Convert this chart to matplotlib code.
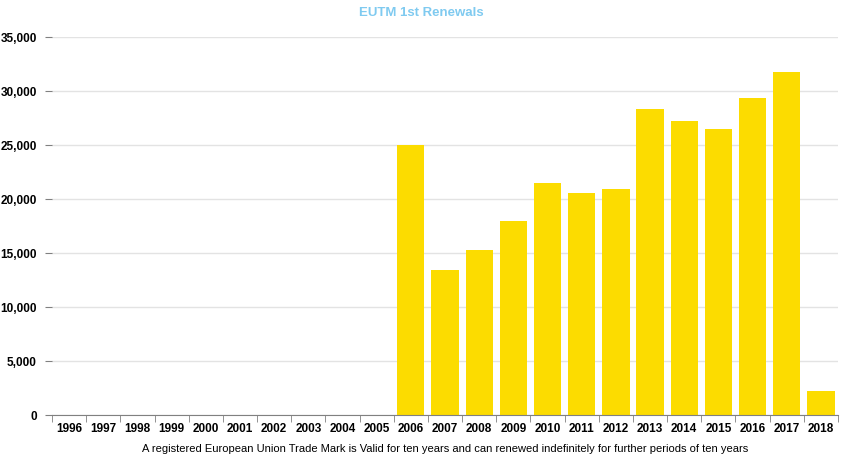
import numpy as np
import matplotlib.pyplot as plt
from matplotlib.ticker import FuncFormatter, FixedLocator

years = [str(y) for y in range(1996, 2019)]
renewals = [0, 0, 0, 0, 0, 0, 0, 0, 0, 0,
            25000, 13400, 15300, 18000, 21500, 20600, 20900,
            28300, 27200, 26500, 29350, 31800, 2200]

plt.rcParams['font.family'] = ['Liberation Sans', 'DejaVu Sans']

fig = plt.figure(figsize=(8.42, 4.57), dpi=100)
ax = fig.add_axes([52 / 842, 1 - 415 / 457, 786 / 842, 378 / 457])

x = np.arange(len(years))
ax.bar(x, renewals, width=0.8, color='#FCDC00', zorder=2)

ax.set_xlim(-0.5, len(years) - 0.5)
ax.set_ylim(0, 35000)
ax.set_yticks(np.arange(0, 35001, 5000))
ax.yaxis.set_major_formatter(FuncFormatter(lambda v, p: f'{int(v):,}'))
ax.grid(axis='y', color='#e3e3e3', linewidth=1, zorder=0)

ax.set_xticks(x)
ax.set_xticklabels(years)
ax.xaxis.set_minor_locator(FixedLocator(np.arange(-0.5, len(years), 1)))
ax.tick_params(axis='x', which='major', length=0, pad=6)
ax.tick_params(axis='x', which='minor', length=5, color='#808080', direction='out')
ax.tick_params(axis='y', length=5, color='#808080', pad=6)

for lab in ax.get_xticklabels() + ax.get_yticklabels():
    lab.set_fontweight('bold')
    lab.set_fontsize(8.5)

for s in ['top', 'right', 'left']:
    ax.spines[s].set_visible(False)
ax.spines['bottom'].set_color('#808080')

ax.set_xlabel('A registered European Union Trade Mark is Valid for ten years and can renewed indefinitely for further periods of ten years',
              fontsize=8, labelpad=6)
fig.text(0.5, 1 - 13 / 457, 'EUTM 1st Renewals', ha='center', va='center',
         color='#7fcaf0', fontsize=9.5, fontweight='bold')

plt.savefig('out.png', dpi=100)
